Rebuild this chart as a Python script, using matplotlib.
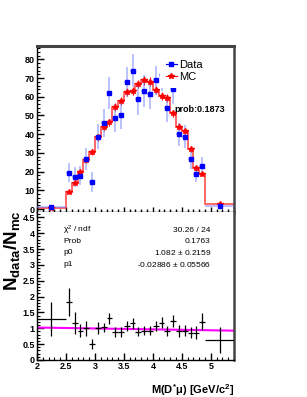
import numpy as np
import matplotlib
matplotlib.use('Agg')
import matplotlib.pyplot as plt
from matplotlib.ticker import MultipleLocator

plt.rcParams['font.family'] = ['Liberation Sans', 'DejaVu Sans']
plt.rcParams['mathtext.default'] = 'regular'

# binning (two wide edge bins + 0.1 wide bins)
edges = [2.0, 2.5, 2.6, 2.7, 2.8, 2.9, 3.0, 3.1, 3.2, 3.3, 3.4, 3.5, 3.6, 3.7,
         3.8, 3.9, 4.0, 4.1, 4.2, 4.3, 4.4, 4.5, 4.6, 4.7, 4.8, 4.9, 5.4]

data = [0.98, 19.4, 17.1, 17.8, 26.6, 14.6, 38.7, 46.1, 62.2, 48.5, 50.2, 67.7, 73.9,
        58.8, 63.1, 61.5, 68.8, 71.5, 53.8, 64.2, 39.9, 38.7, 26.7, 18.7, 23.0, 1.5]
data_err = [0.4, 5.2, 5.3, 5.1, 5.8, 5.3, 6.7, 7.4, 8.5, 7.4, 7.6, 8.0, 8.8,
            8.3, 8.6, 8.2, 7.8, 8.3, 7.3, 8.0, 6.3, 6.2, 5.2, 4.3, 4.8, 1.0]

mc = [0.75, 9.3, 14.1, 19.6, 26.2, 30.6, 38.3, 43.8, 46.3, 54.4, 57.9, 62.5, 63.2,
      66.8, 68.8, 68.0, 63.6, 60.6, 59.5, 51.1, 44.0, 41.6, 32.0, 21.8, 18.7, 2.5]
mc_err = [0.3, 1.0, 1.2, 1.4, 1.5, 1.6, 1.8, 1.9, 2.0, 2.1, 2.1, 2.2, 2.2,
          2.3, 2.3, 2.3, 2.2, 2.2, 2.1, 2.0, 1.9, 1.8, 1.6, 1.4, 1.3, 0.5]

ratio = [1.30, 1.83, 1.16, 0.93, 1.00, 0.50, 1.01, 1.03, 1.31, 0.89, 0.89, 1.07, 1.16,
         0.89, 0.92, 0.92, 1.07, 1.18, 0.92, 1.23, 0.92, 0.93, 0.86, 0.86, 1.21, 0.63]
ratio_err = [0.54, 0.43, 0.34, 0.22, 0.24, 0.16, 0.18, 0.14, 0.18, 0.15, 0.15, 0.15, 0.17,
             0.14, 0.14, 0.14, 0.15, 0.17, 0.15, 0.18, 0.18, 0.18, 0.18, 0.20, 0.27, 0.40]

p0, p1 = 1.082, -0.02886
stat_names = ['$\\chi^{2}$ / ndf', 'Prob', 'p0', 'p1']
stat_vals = ['30.26 / 24', '0.1763', '1.082 $\\pm$ 0.2159', '-0.02886 $\\pm$ 0.05566']

edges = np.array(edges)
centers = (edges[:-1] + edges[1:]) / 2
halfw = (edges[1:] - edges[:-1]) / 2

fig = plt.figure(figsize=(3.07, 3.97), dpi=100)
ax1 = fig.add_axes([0.1205, 0.466, 0.6417, 0.418])
ax2 = fig.add_axes([0.1205, 0.0932, 0.6417, 0.3728])

# top panel
ax1.stairs(mc, edges, color='red', alpha=0.6, lw=1.4, zorder=2)
ax1.errorbar(centers, mc, yerr=mc_err, fmt='*', color='red', ms=4.3, lw=0.8,
             capsize=0, zorder=3)
ax1.errorbar(centers, data, yerr=data_err, xerr=halfw, fmt='none', ecolor='#6f7fff',
             alpha=0.6, lw=1.1, zorder=3)
ax1.plot(centers, data, 's', color='blue', ms=3.3, zorder=4)

h_data = ax1.errorbar([], [], xerr=[], fmt='s-', color='blue', ms=3.3, lw=0.8)
h_mc = ax1.errorbar([], [], fmt='*-', color='red', ms=4.3, lw=0.8)
leg = fig.legend([h_data, h_mc], ['Data', 'MC'], loc='upper left',
                 bbox_to_anchor=(0.503, 0.878), fontsize=8, frameon=True,
                 handlelength=1.0, handletextpad=0.2, labelspacing=0.25,
                 borderpad=0.5, fancybox=False)
leg.get_frame().set_edgecolor('none')
leg.get_frame().set_facecolor('white')
leg.get_frame().set_alpha(1)
leg.set_zorder(10)

ax1.text(4.37, 53, 'prob:0.1873', fontsize=6.5, fontweight='bold', va='center', ha='left')

ax1.set_xlim(2, 5.4)
ax1.set_ylim(-1.6, 87.1)
ax1.xaxis.set_major_locator(MultipleLocator(0.5))
ax1.xaxis.set_minor_locator(MultipleLocator(0.1))
ax1.yaxis.set_major_locator(MultipleLocator(10))
ax1.yaxis.set_minor_locator(MultipleLocator(2))
ax1.tick_params(axis='x', which='both', direction='inout', labelbottom=False, top=False)
ax1.tick_params(axis='x', which='major', length=7, width=1)
ax1.tick_params(axis='x', which='minor', length=5, width=1)
ax1.tick_params(axis='y', which='both', direction='in', right=False, labelsize=6.5)
ax1.tick_params(axis='y', which='major', length=5, width=1, pad=1.5)
ax1.tick_params(axis='y', which='minor', length=2.5, width=0.8)
for lab in ax1.get_yticklabels():
    lab.set_fontweight('bold')

# bottom panel
xfit = np.array([2.0, 5.4])
ax2.plot(xfit, p0 + p1 * xfit, color='#ff00ff', lw=1.5, zorder=2)
ax2.errorbar(centers, ratio, yerr=ratio_err, xerr=halfw, fmt='none', ecolor='black',
             lw=0.9, zorder=3)

for i, (n, v) in enumerate(zip(stat_names, stat_vals)):
    yy = 4.1 - i * 0.36
    ax2.text(2.45, yy, n, fontsize=6, va='center', ha='left')
    ax2.text(5.0, yy, v, fontsize=6, va='center', ha='right')

ax2.set_xlim(2, 5.4)
ax2.set_ylim(0, 4.67)
ax2.xaxis.set_major_locator(MultipleLocator(0.5))
ax2.xaxis.set_minor_locator(MultipleLocator(0.1))
ax2.yaxis.set_major_locator(MultipleLocator(0.5))
ax2.yaxis.set_minor_locator(MultipleLocator(0.1))
ax2.set_xticks([2, 2.5, 3, 3.5, 4, 4.5, 5])
ax2.set_xticklabels(['2', '2.5', '3', '3.5', '4', '4.5', '5'])
ax2.set_yticks([0, 0.5, 1, 1.5, 2, 2.5, 3, 3.5, 4, 4.5])
ax2.set_yticklabels(['0', '0.5', '1', '1.5', '2', '2.5', '3', '3.5', '4', '4.5'])
ax2.tick_params(axis='both', which='both', direction='in', top=False, right=False,
                labelsize=6.5)
ax2.tick_params(axis='both', which='major', length=5, width=1, pad=1.5)
ax2.tick_params(axis='both', which='minor', length=2.5, width=0.8)
for lab in ax2.get_xticklabels() + ax2.get_yticklabels():
    lab.set_fontweight('bold')

for ax in (ax1, ax2):
    ax.spines['left'].set_linewidth(1)
    ax.spines['bottom'].set_linewidth(1)
    ax.spines['right'].set_color('#444444')
    ax.spines['right'].set_linewidth(1.8)
ax1.spines['top'].set_color('#444444')
ax1.spines['top'].set_linewidth(2.2)
ax2.spines['top'].set_visible(False)

fig.text(0.04, 1 - 251 / 397, 'N$_{data}$/N$_{mc}$', rotation=90, fontsize=13.5,
         fontweight='bold', ha='center', va='center')
fig.text(0.762, 1 - 390 / 397, 'M(D$^{*}$μ) [GeV/c$^{2}$]', fontsize=8,
         fontweight='bold', ha='right', va='center')

fig.savefig('out.png', dpi=100)
